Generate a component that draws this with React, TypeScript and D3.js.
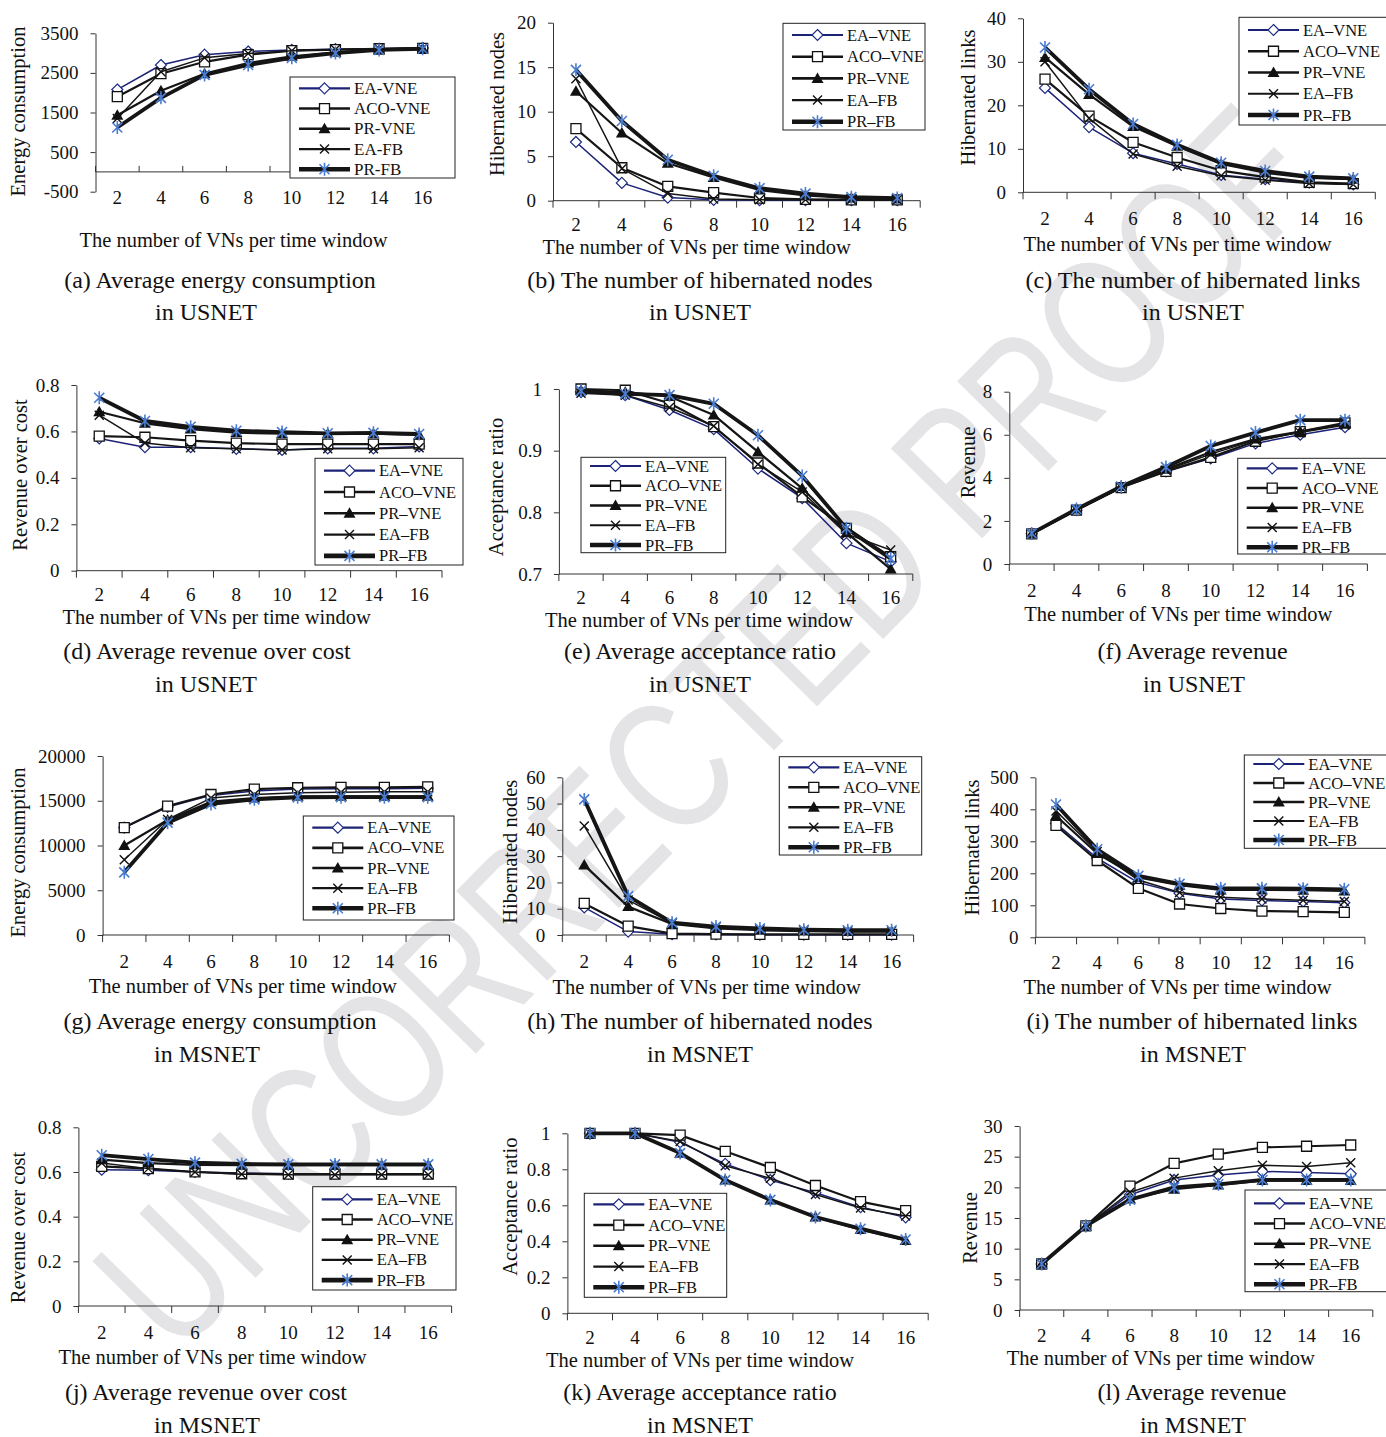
import React, { useEffect, useRef } from "react";
import * as d3 from "d3";

// x categories and series names shared by every panel
const vnCounts = ["2", "4", "6", "8", "10", "12", "14", "16"];
const algorithms = ["EA-VNE", "ACO-VNE", "PR-VNE", "EA-FB", "PR-FB"];

// rows: EA-VNE, ACO-VNE, PR-VNE, EA-FB, PR-FB
const energyUsnet = [
  [2080, 2700, 2960, 3040, 3080, 3100, 3110, 3130],
  [1900, 2480, 2780, 2960, 3060, 3090, 3110, 3120],
  [1430, 2050, 2480, 2750, 2920, 3020, 3080, 3110],
  [1350, 2530, 2880, 2990, 3060, 3090, 3110, 3120],
  [1120, 1870, 2450, 2700, 2880, 3000, 3080, 3110],
];
const energyUsnetTicks = [-500, 500, 1500, 2500, 3500];

const nodesUsnet = [
  [6.6, 2.0, 0.35, 0.1, 0.05, 0.05, 0.05, 0.05],
  [8.1, 3.7, 1.6, 0.9, 0.3, 0.15, 0.1, 0.1],
  [12.3, 7.6, 4.2, 2.6, 1.2, 0.6, 0.3, 0.2],
  [13.7, 3.6, 0.8, 0.2, 0.1, 0.1, 0.1, 0.1],
  [14.7, 8.95, 4.6, 2.8, 1.4, 0.8, 0.4, 0.3],
];
const nodesUsnetTicks = [0, 5, 10, 15, 20];

const linksUsnet = [
  [24, 15, 9, 6.5, 4, 3, 2.2, 1.8],
  [26, 17.5, 11.5, 8, 5, 3.5, 2.3, 2],
  [31, 22.5, 15.1, 10.6, 6.5, 4.5, 3.3, 3],
  [30, 17, 8.8, 6, 3.8, 2.8, 2, 1.8],
  [33.3, 23.7, 15.7, 10.9, 6.8, 4.9, 3.6, 3.2],
];
const linksUsnetTicks = [0, 10, 20, 30, 40];

const rcUsnet = [
  [0.57, 0.532, 0.532, 0.525, 0.52, 0.527, 0.527, 0.535],
  [0.58, 0.575, 0.56, 0.55, 0.545, 0.545, 0.545, 0.545],
  [0.685, 0.635, 0.61, 0.595, 0.59, 0.59, 0.59, 0.585],
  [0.67, 0.55, 0.53, 0.525, 0.52, 0.525, 0.525, 0.53],
  [0.745, 0.645, 0.62, 0.603, 0.597, 0.592, 0.594, 0.589],
];
const rcTicks = [0, 0.2, 0.4, 0.6, 0.8];
const rcTickLabels = ["0", "0.2", "0.4", "0.6", "0.8"];

const acceptUsnet = [
  [0.995, 0.99, 0.966, 0.935, 0.871, 0.823, 0.75, 0.72],
  [1.0, 0.998, 0.977, 0.939, 0.88, 0.825, 0.774, 0.728],
  [0.998, 0.995, 0.988, 0.958, 0.898, 0.839, 0.767, 0.708],
  [0.993, 0.99, 0.97, 0.94, 0.878, 0.833, 0.765, 0.739],
  [0.997, 0.992, 0.99, 0.976, 0.925, 0.859, 0.774, 0.725],
];
const acceptUsnetTicks = [0.7, 0.8, 0.9, 1];
const acceptUsnetTickLabels = ["0.7", "0.8", "0.9", "1"];

const revenueUsnet = [
  [1.4, 2.5, 3.55, 4.3, 4.9, 5.6, 6.0, 6.35],
  [1.4, 2.5, 3.55, 4.3, 4.95, 5.7, 6.15, 6.55],
  [1.4, 2.55, 3.6, 4.4, 5.2, 5.8, 6.15, 6.5],
  [1.4, 2.5, 3.55, 4.35, 5.1, 5.75, 6.1, 6.45],
  [1.42, 2.55, 3.6, 4.5, 5.48, 6.1, 6.68, 6.68],
];
const revenueUsnetTicks = [0, 2, 4, 6, 8];

const energyMsnet = [
  [12000, 14300, 15600, 16100, 16300, 16350, 16350, 16400],
  [12000, 14400, 15700, 16300, 16450, 16500, 16500, 16550],
  [10000, 12850, 14900, 15300, 15500, 15500, 15500, 15500],
  [8400, 12900, 15300, 15700, 15900, 15950, 16000, 16000],
  [7000, 12550, 14640, 15160, 15380, 15400, 15400, 15400],
];
const energyMsnetTicks = [0, 5000, 10000, 15000, 20000];

const nodesMsnet = [
  [10.5, 1.3, 0.3, 0.2, 0.1, 0.1, 0.1, 0.1],
  [12, 3.4, 0.5, 0.3, 0.2, 0.2, 0.2, 0.2],
  [26.6, 10.8, 4.2, 2.5, 1.8, 1.5, 1.3, 1.3],
  [41.5, 13.3, 4.5, 3, 2, 1.7, 1.5, 1.5],
  [51.6, 14.8, 4.7, 3.2, 2.5, 2, 1.8, 1.8],
];
const nodesMsnetTicks = [0, 10, 20, 30, 40, 50, 60];

const linksMsnet = [
  [356, 247, 171, 138, 120, 115, 112, 108],
  [350, 240, 153, 104, 90, 82, 80, 78],
  [380, 262, 187, 163, 148, 148, 147, 145],
  [395, 268, 179, 140, 125, 120, 116, 112],
  [415, 275, 192, 167, 153, 153, 152, 150],
];
const linksMsnetTicks = [0, 100, 200, 300, 400, 500];

const rcMsnet = [
  [0.61, 0.608, 0.6, 0.595, 0.592, 0.592, 0.592, 0.592],
  [0.625, 0.615, 0.6, 0.592, 0.59, 0.59, 0.59, 0.59],
  [0.655, 0.64, 0.632, 0.63, 0.63, 0.63, 0.63, 0.63],
  [0.64, 0.615, 0.6, 0.59, 0.588, 0.588, 0.588, 0.588],
  [0.675, 0.658, 0.642, 0.636, 0.634, 0.634, 0.634, 0.634],
];

const acceptMsnet = [
  [1, 1, 0.95, 0.83, 0.74, 0.67, 0.59, 0.533],
  [1, 1, 0.99, 0.9, 0.81, 0.71, 0.62, 0.57],
  [1, 1, 0.889, 0.74, 0.63, 0.535, 0.465, 0.405],
  [1, 1, 0.955, 0.82, 0.75, 0.66, 0.585, 0.54],
  [1, 1, 0.89, 0.74, 0.63, 0.535, 0.47, 0.41],
];
const acceptMsnetTicks = [0, 0.2, 0.4, 0.6, 0.8, 1];
const acceptMsnetTickLabels = ["0", "0.2", "0.4", "0.6", "0.8", "1"];

const revenueMsnet = [
  [7.5, 13.7, 18.8, 21.2, 22.0, 22.6, 22.4, 22.2],
  [7.5, 13.7, 20.2, 23.9, 25.4, 26.5, 26.7, 26.9],
  [7.5, 13.6, 18.1, 19.7, 20.4, 21.1, 21.1, 21.1],
  [7.5, 13.7, 19.2, 21.5, 22.7, 23.6, 23.4, 24.0],
  [7.5, 13.7, 18.0, 20.0, 20.5, 21.2, 21.2, 21.2],
];
const revenueMsnetTicks = [0, 5, 10, 15, 20, 25, 30];

const xTitle = "The number of VNs per time window";
const SERIF = "'Liberation Serif', 'Times New Roman', serif";
const AXIS = "#333";

const seriesStyle = [
  { color: "#1c2275", width: 1.5, legendWidth: 2.2, marker: "diamond" },
  { color: "#151515", width: 2.2, legendWidth: 2.6, marker: "square" },
  { color: "#151515", width: 2.2, legendWidth: 2.6, marker: "triangle" },
  { color: "#151515", width: 1.5, legendWidth: 2.2, marker: "cross" },
  { color: "#151515", width: 3.8, legendWidth: 4.6, marker: "star" },
];

const markerPath: Record<string, string> = {
  diamond: "M0,-5.5L5.5,0L0,5.5L-5.5,0Z",
  square: "M-5,-5H5V5H-5Z",
  triangle: "M0,-6L6,4.5H-6Z",
  cross: "M-4.5,-4.5L4.5,4.5M-4.5,4.5L4.5,-4.5",
  star: "M-5,-5L5,5M-5,5L5,-5M0,-6.5V6.5",
};

function markerAttrs(sel: any, kind: string) {
  if (kind === "diamond") sel.attr("fill", "#fff").attr("stroke", "#1c2a85").attr("stroke-width", 1.2);
  else if (kind === "square") sel.attr("fill", "#fff").attr("stroke", "#111").attr("stroke-width", 1.3);
  else if (kind === "triangle") sel.attr("fill", "#111").attr("stroke", "none");
  else if (kind === "cross") sel.attr("fill", "none").attr("stroke", "#111").attr("stroke-width", 1.4);
  else sel.attr("fill", "none").attr("stroke", "#4a7cd2").attr("stroke-width", 1.6);
}

const panels = [
  { data: energyUsnet, ticks: energyUsnetTicks, labels: null, yTitle: "Energy consumption",
    left: 95.5, right: 444.5, top: 33.3, bottom: 191.7, xAxisAt: 0, tickUp: true, tickY: 197,
    title: [233.5, 240], yT: [17.5, 111.5], legend: [290, 77, 165, 101, 11.3, 20.25], dash: "-", lf: 17,
    cap: ["(a) Average energy consumption", "in USNET"], capX: [220, 206], capY: [280, 312] },
  { data: nodesUsnet, ticks: nodesUsnetTicks, labels: null, yTitle: "Hibernated nodes",
    left: 553, right: 920.2, top: 22.7, bottom: 200.7, tickY: 224.5,
    title: [696.7, 246.5], yT: [496.5, 104], legend: [783, 23.3, 142, 106.7, 11.7, 21.7],
    cap: ["(b) The number of hibernated nodes", "in USNET"], capX: [700, 700], capY: [280, 312] },
  { data: linksUsnet, ticks: linksUsnetTicks, labels: null, yTitle: "Hibernated links",
    left: 1023, right: 1375.3, top: 18.3, bottom: 192.3,
    title: [1177.5, 244], yT: [968, 97.5], legend: [1239, 17.3, 150, 107.7, 12.7, 21.25],
    cap: ["(c) The number of hibernated links", "in USNET"], capX: [1193, 1193], capY: [280, 312] },
  { data: rcUsnet, ticks: rcTicks, labels: rcTickLabels, yTitle: "Revenue over cost",
    left: 76.4, right: 442, top: 385, bottom: 570.7, tickY: 594.5,
    title: [216.7, 617], yT: [19.5, 475], legend: [315, 458.3, 148, 106.7, 12.4, 21.3],
    cap: ["(d) Average revenue over cost", "in USNET"], capX: [207, 206], capY: [651, 684] },
  { data: acceptUsnet, ticks: acceptUsnetTicks, labels: acceptUsnetTickLabels, yTitle: "Acceptance ratio",
    left: 558.9, right: 912.8, top: 389, bottom: 574, tickY: 597.5,
    title: [699, 620], yT: [495.5, 487], legend: [581, 457.3, 144.7, 95.4, 8.7, 19.75],
    cap: ["(e) Average acceptance ratio", "in USNET"], capX: [700, 700], capY: [651, 684] },
  { data: revenueUsnet, ticks: revenueUsnetTicks, labels: null, yTitle: "Revenue",
    left: 1009.3, right: 1367.4, top: 391.7, bottom: 564,
    title: [1178.3, 614], yT: [968, 462.5], legend: [1237.7, 458.3, 150, 95.7, 10, 19.75],
    cap: ["(f) Average revenue", "in USNET"], capX: [1192.5, 1194], capY: [651, 684] },
  { data: energyMsnet, ticks: energyMsnetTicks, labels: null, yTitle: "Energy consumption",
    left: 102.6, right: 449.4, top: 756, bottom: 935,
    title: [242.8, 986], yT: [18.3, 852.5], legend: [303.3, 816, 150.7, 104, 11.7, 20.15],
    cap: ["(g) Average energy consumption", "in MSNET"], capX: [220, 207], capY: [1021, 1054] },
  { data: nodesMsnet, ticks: nodesMsnetTicks, labels: null, yTitle: "Hibernated nodes",
    left: 562.3, right: 913.6, top: 777.3, bottom: 935,
    title: [706.7, 986.5], yT: [510, 851.7], legend: [779.3, 756.7, 142.4, 98.3, 10.6, 20],
    cap: ["(h) The number of hibernated nodes", "in MSNET"], capX: [700, 700], capY: [1021, 1054] },
  { data: linksMsnet, ticks: linksMsnetTicks, labels: null, yTitle: "Hibernated links",
    left: 1035.4, right: 1364.9, top: 777.3, bottom: 937.3, tickY: 962,
    title: [1177.5, 986.5], yT: [971.7, 847.5], legend: [1244.3, 755, 145, 93.3, 9, 19],
    cap: ["(i) The number of hibernated links", "in MSNET"], capX: [1192, 1193], capY: [1021, 1054] },
  { data: rcMsnet, ticks: rcTicks, labels: rcTickLabels, yTitle: "Revenue over cost",
    left: 78.4, right: 451.6, top: 1127.3, bottom: 1306,
    title: [212.5, 1356.7], yT: [18, 1227.5], legend: [312.7, 1186.7, 143.3, 103.3, 12.6, 20.2],
    cap: ["(j) Average revenue over cost", "in MSNET"], capX: [206, 207], capY: [1392, 1425] },
  { data: acceptMsnet, ticks: acceptMsnetTicks, labels: acceptMsnetTickLabels, yTitle: "Acceptance ratio",
    left: 567.4, right: 928.2, top: 1133.3, bottom: 1313.3, tickY: 1337,
    title: [700, 1359.5], yT: [510, 1206.7], legend: [584.3, 1193.3, 142.4, 104, 11, 20.75],
    cap: ["(k) Average acceptance ratio", "in MSNET"], capX: [700, 700], capY: [1392, 1425] },
  { data: revenueMsnet, ticks: revenueMsnetTicks, labels: null, yTitle: "Revenue",
    left: 1019.6, right: 1372.8, top: 1126, bottom: 1310, tickY: 1335,
    title: [1160.8, 1357.5], yT: [970, 1228], legend: [1245, 1190, 145, 101.7, 13.3, 20.25],
    cap: ["(l) Average revenue", "in MSNET"], capX: [1192, 1193], capY: [1392, 1425] },
];

function drawPanel(svg: any, p: any) {
  const g = svg.append("g").attr("font-family", SERIF).attr("fill", "#111");

  const x = d3.scaleBand<string>().domain(vnCounts).range([p.left, p.right]).padding(0);
  const bw = x.bandwidth();
  const cx = (i: number) => (x(vnCounts[i]) as number) + bw / 2;
  const y = d3
    .scaleLinear()
    .domain([p.ticks[0], p.ticks[p.ticks.length - 1]])
    .range([p.bottom, p.top]);

  // y axis
  const ya = g
    .append("g")
    .attr("transform", `translate(${p.left},0)`)
    .call(
      d3
        .axisLeft(y)
        .tickValues(p.ticks)
        .tickSize(5)
        .tickSizeOuter(0)
        .tickPadding(12)
        .tickFormat((d: any, i: number) => (p.labels ? p.labels[i] : String(d)))
    );
  ya.attr("font-family", SERIF).attr("font-size", 19);
  ya.selectAll("path, line").attr("stroke", AXIS);
  ya.selectAll("text").attr("fill", "#111");

  // category axis, ticks between categories
  const baseY = y(p.xAxisAt ?? p.ticks[0]);
  g.append("line")
    .attr("x1", p.left)
    .attr("x2", p.right)
    .attr("y1", baseY)
    .attr("y2", baseY)
    .attr("stroke", AXIS);
  const tickLen = p.tickUp ? -6 : 7;
  g.selectAll(".xtick")
    .data(d3.range(9))
    .join("line")
    .attr("x1", (k: number) => p.left + k * bw)
    .attr("x2", (k: number) => p.left + k * bw)
    .attr("y1", baseY)
    .attr("y2", baseY + tickLen)
    .attr("stroke", AXIS);
  g.selectAll(".xlab")
    .data(vnCounts)
    .join("text")
    .attr("x", (d: string, i: number) => cx(i))
    .attr("y", p.tickY ?? p.bottom + 26)
    .attr("text-anchor", "middle")
    .attr("dominant-baseline", "central")
    .attr("font-size", 19)
    .text((d: string) => d);

  // titles
  g.append("text")
    .attr("x", p.title[0])
    .attr("y", p.title[1])
    .attr("text-anchor", "middle")
    .attr("dominant-baseline", "central")
    .attr("font-size", 20.5)
    .text(xTitle);
  g.append("text")
    .attr("transform", `translate(${p.yT[0]},${p.yT[1]}) rotate(-90)`)
    .attr("text-anchor", "middle")
    .attr("dominant-baseline", "central")
    .attr("font-size", 20.5)
    .text(p.yTitle);

  // series
  const line = d3
    .line<number>()
    .x((d, i) => cx(i))
    .y((d) => y(d));
  p.data.forEach((vals: number[], s: number) => {
    const st = seriesStyle[s];
    g.append("path")
      .attr("d", line(vals))
      .attr("fill", "none")
      .attr("stroke", st.color)
      .attr("stroke-width", st.width)
      .attr("stroke-linejoin", "round");
    const m = g
      .selectAll(".m" + s)
      .data(vals)
      .join("path")
      .attr("d", markerPath[st.marker])
      .attr("transform", (d: number, i: number) => `translate(${cx(i)},${y(d)})`);
    markerAttrs(m, st.marker);
  });

  // legend
  const [lx, ly, lw, lh, first, step] = p.legend;
  g.append("rect")
    .attr("x", lx)
    .attr("y", ly)
    .attr("width", lw)
    .attr("height", lh)
    .attr("fill", "#fff")
    .attr("stroke", "#222")
    .attr("stroke-width", 1);
  algorithms.forEach((name, s) => {
    const st = seriesStyle[s];
    const yy = ly + first + s * step;
    g.append("line")
      .attr("x1", lx + 9)
      .attr("x2", lx + 60)
      .attr("y1", yy)
      .attr("y2", yy)
      .attr("stroke", st.color)
      .attr("stroke-width", st.legendWidth);
    const m = g
      .append("path")
      .attr("d", markerPath[st.marker])
      .attr("transform", `translate(${lx + 34.5},${yy})`);
    markerAttrs(m, st.marker);
    g.append("text")
      .attr("x", lx + 64)
      .attr("y", yy)
      .attr("dominant-baseline", "central")
      .attr("font-size", p.lf ?? 16.5)
      .text(name.replace("-", p.dash ?? "\u2013"));
  });

  // caption
  p.cap.forEach((c: string, i: number) => {
    g.append("text")
      .attr("x", p.capX[i])
      .attr("y", p.capY[i])
      .attr("text-anchor", "middle")
      .attr("dominant-baseline", "central")
      .attr("font-size", 24)
      .text(c);
  });
}

export default function App() {
  const svgRef = useRef<SVGSVGElement | null>(null);

  useEffect(() => {
    const svg = d3.select(svgRef.current);
    svg.selectAll("*").remove();

    // proof watermark behind the charts (tall, narrow letters)
    svg
      .append("text")
      .attr("transform", "translate(705,728) rotate(-45.5) scale(0.76,1)")
      .attr("text-anchor", "middle")
      .attr("dominant-baseline", "central")
      .attr("font-family", "'Liberation Sans', Arial, sans-serif")
      .attr("font-size", 186)
      .attr("fill", "#e4e4e6")
      .text("UNCORRECTED PROOF");

    panels.forEach((p) => drawPanel(svg, p));
  }, []);

  return (
    <svg
      ref={svgRef}
      width={1386}
      height={1437}
      style={{ position: "absolute", left: 0, top: 0, background: "#fff" }}
    />
  );
}
